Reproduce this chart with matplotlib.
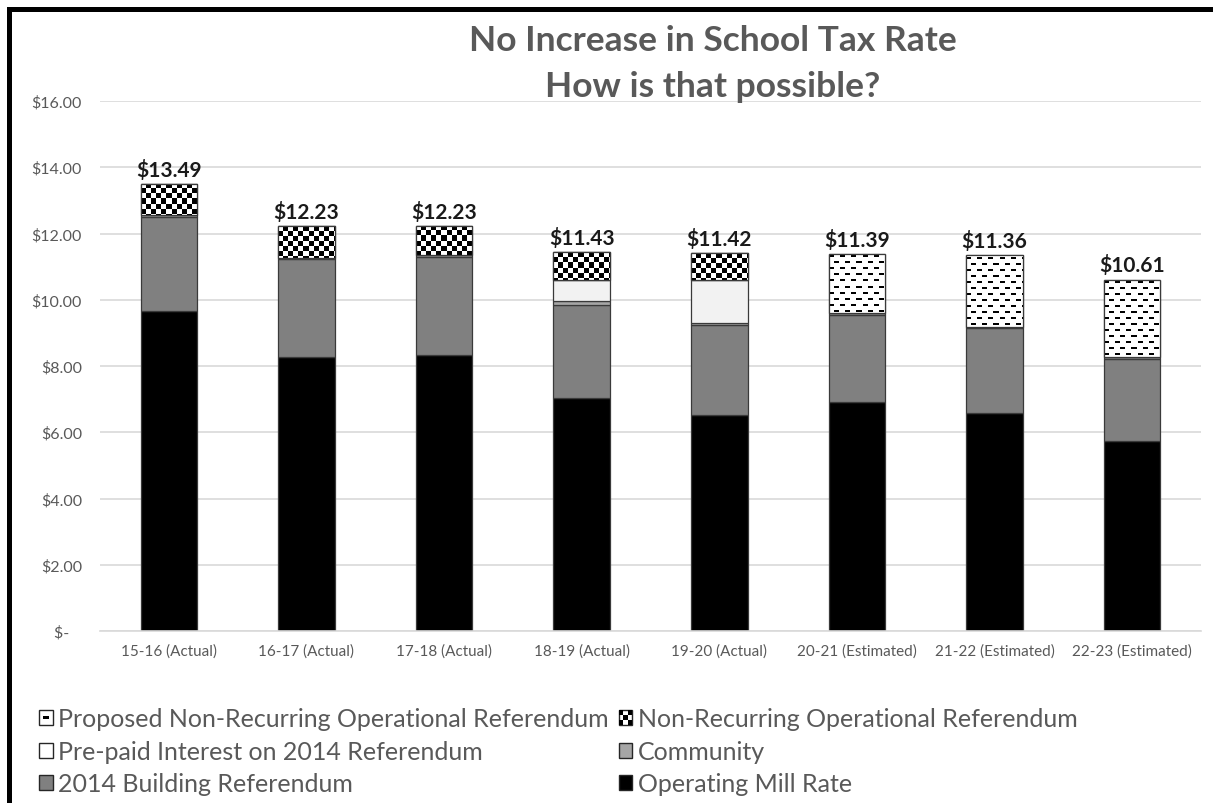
import numpy as np
import matplotlib
matplotlib.use("Agg")
import matplotlib.pyplot as plt
from matplotlib import font_manager
from matplotlib.patches import Rectangle, Patch
from matplotlib.legend_handler import HandlerBase

# ---------------- data ----------------
categories = ["15-16 (Actual)", "16-17 (Actual)", "17-18 (Actual)", "18-19 (Actual)",
              "19-20 (Actual)", "20-21 (Estimated)", "21-22 (Estimated)", "22-23 (Estimated)"]
operating = [9.65, 8.27, 8.34, 7.03, 6.53, 6.91, 6.59, 5.74]
building = [2.85, 2.95, 2.95, 2.80, 2.71, 2.64, 2.55, 2.48]
community = [0.05, 0.05, 0.05, 0.12, 0.06, 0.05, 0.05, 0.05]
prepaid = [0.00, 0.00, 0.00, 0.66, 1.31, 0.00, 0.00, 0.00]
nonrecurring = [0.94, 0.96, 0.89, 0.82, 0.81, 0.00, 0.00, 0.00]
proposed = [0.00, 0.00, 0.00, 0.00, 0.00, 1.79, 2.17, 2.34]
totals = [13.49, 12.23, 12.23, 11.43, 11.42, 11.39, 11.36, 10.61]
yticks = [0, 2, 4, 6, 8, 10, 12, 14, 16]
ytick_labels = ["$-   ", "$2.00", "$4.00", "$6.00", "$8.00", "$10.00", "$12.00", "$14.00", "$16.00"]
title_text = "No Increase in School Tax Rate\nHow is that possible?"

# ---------------- fonts ----------------
names = {f.name for f in font_manager.fontManager.ttflist}
FONT = "Lato" if "Lato" in names else "Liberation Sans"
plt.rcParams["font.family"] = [FONT, "DejaVu Sans"]

GREY_TXT = "#595959"
EDGE = "#3a3a3a"

W, H = 1213, 804
fig = plt.figure(figsize=(W / 100, H / 100), dpi=100)
ax = fig.add_axes([100 / W, (H - 632) / H, 1101 / W, 530 / H])
ax.set_xlim(-0.5, len(categories) - 0.5)
ax.set_ylim(0, 16)

x = np.arange(len(categories))
bw = 0.41

series = [
    ("Operating Mill Rate", operating, "solid", "#000000"),
    ("2014 Building Referendum", building, "solid", "#808080"),
    ("Community", community, "solid", "#a6a6a6"),
    ("Pre-paid Interest on 2014 Referendum", prepaid, "solid", "#f2f2f2"),
    ("Non-Recurring Operational Referendum", nonrecurring, "checker", "#ffffff"),
    ("Proposed Non-Recurring Operational Referendum", proposed, "dash", "#ffffff"),
]


def pattern(kind, hpx, wpx):
    yy, xx = np.mgrid[0:hpx, 0:wpx]
    if kind == "checker":
        c = 5
        return (((yy // c) + (xx // c)) % 2).astype(float)
    row = yy % 12
    arr = np.zeros((hpx, wpx))
    a = (row >= 2) & (row < 4) & ((xx % 11) < 5)
    b = (row >= 8) & (row < 10) & (((xx + 6) % 11) < 5)
    arr[a | b] = 1.0
    return arr


bottom = np.zeros(len(categories))
for name, vals, kind, color in series:
    vals = np.array(vals, dtype=float)
    bars = ax.bar(x, vals, bw, bottom=bottom, color=color, edgecolor=EDGE,
                  linewidth=0.9, zorder=2)
    if kind != "solid":
        for bar, v in zip(bars, vals):
            if v <= 0:
                continue
            x0, y0 = bar.get_x(), bar.get_y()
            x1, y1 = x0 + bar.get_width(), y0 + bar.get_height()
            p0 = ax.transData.transform((x0, y0))
            p1 = ax.transData.transform((x1, y1))
            wpx = max(1, int(round(p1[0] - p0[0])))
            hpx = max(1, int(round(p1[1] - p0[1])))
            img = pattern(kind, hpx, wpx)
            im = ax.imshow(img, extent=(x0, x1, y0, y1), cmap="gray_r", vmin=0, vmax=1,
                           interpolation="nearest", aspect="auto", zorder=2.5, origin="upper")
            im.set_clip_path(bar)
            ax.add_patch(Rectangle((x0, y0), x1 - x0, y1 - y0, facecolor="none",
                                   edgecolor=EDGE, linewidth=0.9, zorder=2.6))
    bottom += vals

for xi, t, b in zip(x, totals, bottom):
    ax.annotate(f"${t:.2f}", (xi, b), xytext=(0, 3), textcoords="offset points",
                ha="center", va="bottom", fontsize=15, fontweight="bold", color="#1a1a1a")

ax.set_xticks(x)
ax.set_xticklabels(categories, fontsize=11, color=GREY_TXT)
ax.set_yticks(yticks)
ax.set_yticklabels(ytick_labels, fontsize=11.5, color=GREY_TXT)
ax.tick_params(axis="both", length=0)
ax.tick_params(axis="y", pad=13)
ax.tick_params(axis="x", pad=9)
ax.grid(axis="y", color="#d9d9d9", linewidth=1.2)
ax.set_axisbelow(True)
for s in ["top", "right", "left"]:
    ax.spines[s].set_visible(False)
ax.spines["bottom"].set_color("#d9d9d9")
ax.spines["bottom"].set_linewidth(1.2)

fig.text(713 / W, 1 - 64 / H, title_text, ha="center", va="center", fontsize=25.5,
         fontweight="bold", color=GREY_TXT, linespacing=1.55)


class SquareHandler(HandlerBase):
    def create_artists(self, legend, orig_handle, xdescent, ydescent, width, height, fontsize, trans):
        kind = orig_handle.get_gid()
        s = height * 0.95
        w = s * 0.9
        x0 = -xdescent + (width - w) / 2
        y0 = -ydescent + (height - s) / 2
        arts = [Rectangle((x0, y0), w, s, facecolor=orig_handle.get_facecolor(),
                          edgecolor="#262626", linewidth=1.0, transform=trans)]
        if kind == "checker":
            n = 3
            cw, ch = w / n, s / n
            for i in range(n):
                for j in range(n):
                    if (i + j) % 2 == 0:
                        arts.append(Rectangle((x0 + i * cw, y0 + j * ch), cw, ch,
                                              facecolor="#000000", edgecolor="none", transform=trans))
        elif kind == "dash":
            arts.append(Rectangle((x0 + w * 0.3, y0 + s * 0.42), w * 0.4, s * 0.16,
                                  facecolor="#000000", edgecolor="none", transform=trans))
        return arts


def mk(label, color, kind):
    p = Patch(facecolor=color, label=label)
    p.set_gid(kind)
    return p


handles = [
    mk("Proposed Non-Recurring Operational Referendum", "#ffffff", "dash"),
    mk("Pre-paid Interest on 2014 Referendum", "#ffffff", "solid"),
    mk("2014 Building Referendum", "#808080", "solid"),
    mk("Non-Recurring Operational Referendum", "#ffffff", "checker"),
    mk("Community", "#a6a6a6", "solid"),
    mk("Operating Mill Rate", "#000000", "solid"),
]
leg = fig.legend(handles=handles, loc="upper left", bbox_to_anchor=(26 / W, 1 - 696 / H),
                 ncol=2, frameon=False, fontsize=18, labelcolor=GREY_TXT,
                 handlelength=0.6, handleheight=0.6, handletextpad=0.2,
                 columnspacing=0.35, labelspacing=0.38, borderpad=0,
                 handler_map={Patch: SquareHandler()})

fig.add_artist(Rectangle((7 / W, 0), 5 / W, 1 - 8 / H, transform=fig.transFigure,
                         facecolor="black", edgecolor="none"))
fig.add_artist(Rectangle((7 / W, 1 - 13 / H), 1 - 7 / W, 5 / H, transform=fig.transFigure,
                         facecolor="black", edgecolor="none"))

fig.savefig("out.png", dpi=100, facecolor="white")
